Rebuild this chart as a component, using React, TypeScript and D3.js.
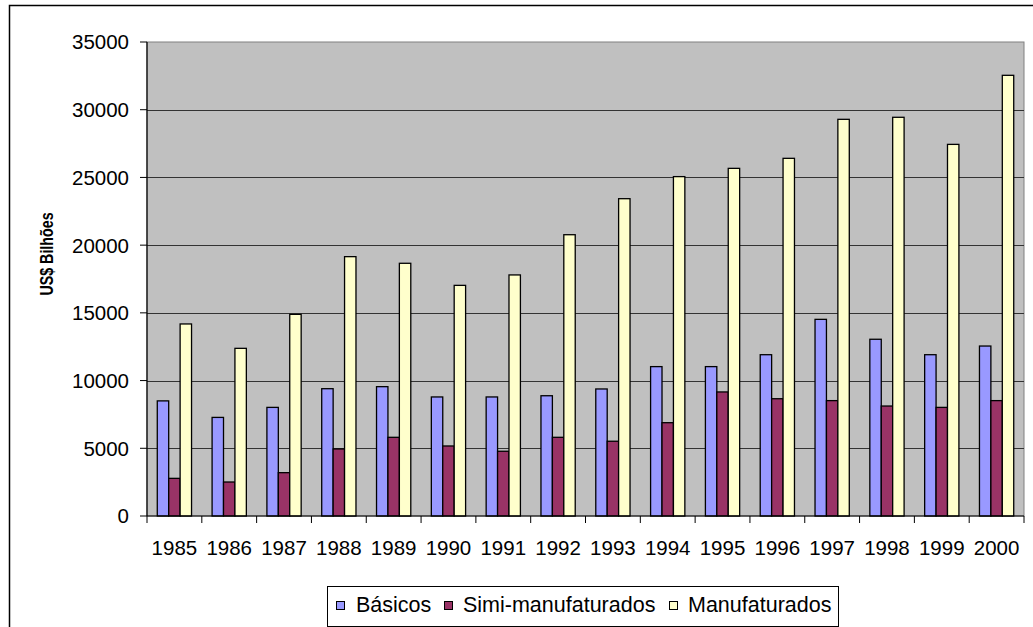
import React from "react";
import * as d3 from "d3";

const years = ["1985","1986","1987","1988","1989","1990","1991","1992","1993","1994","1995","1996","1997","1998","1999","2000"];
const basicos = [8500, 7280, 8020, 9400, 9550, 8790, 8790, 8880, 9380, 11030, 11030, 11910, 14520, 13050, 11910, 12550];
const simiManufaturados = [2780, 2510, 3200, 4950, 5810, 5170, 4780, 5810, 5520, 6890, 9160, 8660, 8520, 8120, 8020, 8520];
const manufaturados = [14180, 12380, 14890, 19150, 18660, 17030, 17800, 20770, 23430, 25060, 25670, 26410, 29290, 29440, 27440, 32540];
const seriesNames = ["Básicos", "Simi-manufaturados", "Manufaturados"];
const seriesColors = ["#9999FF", "#993366", "#FFFFCC"];
const yTicks = [0, 5000, 10000, 15000, 20000, 25000, 30000, 35000];

const FONT = "'Liberation Sans', Arial, sans-serif";

export default function App() {
  const W = 1033, H = 627;
  const left = 147, right = 1024, top = 42, bottom = 516;
  const seriesData = [basicos, simiManufaturados, manufaturados];

  const x = d3.scaleBand<string>().domain(years).range([left, right]).padding(0);
  const x1 = d3.scaleBand<number>().domain([0, 1, 2]).range([0, x.bandwidth()]).paddingInner(0).paddingOuter(0.9);
  const y = d3.scaleLinear().domain([0, 35000]).range([bottom, top]);

  const legendX = 327, legendY = 586, legendW = 511, legendH = 40;
  const legendItems = [
    { sw: 336, tx: 356 },
    { sw: 444, tx: 463 },
    { sw: 669, tx: 688 },
  ];

  return (
    <svg width={W} height={H} style={{ position: "absolute", left: 0, top: 0, background: "#fff" }} fontFamily={FONT}>
      <rect x={0} y={0} width={W} height={H} fill="#fff" />
      {/* outer chart border */}
      <rect x={9.5} y={5.5} width={W + 20} height={H + 20} fill="none" stroke="#000" strokeWidth={1.5} />
      {/* plot area */}
      <rect x={left} y={top} width={right - left} height={bottom - top} fill="#C0C0C0" stroke="#808080" strokeWidth={1} />
      {/* gridlines */}
      {yTicks.filter(t => t > 0 && t < 35000).map(t => (
        <line key={"g" + t} x1={left} x2={right} y1={Math.round(y(t)) + 0.5} y2={Math.round(y(t)) + 0.5} stroke="#333" strokeWidth={1} />
      ))}
      {/* bars */}
      {years.map((yr, i) => (
        <g key={yr}>
          {seriesData.map((s, k) => (
            <rect
              key={k}
              x={(x(yr) as number) + (x1(k) as number)}
              y={y(s[i])}
              width={x1.bandwidth()}
              height={bottom - y(s[i])}
              fill={seriesColors[k]}
              stroke="#000"
              strokeWidth={1.3}
            />
          ))}
        </g>
      ))}
      {/* axes */}
      <line x1={left} x2={left} y1={top} y2={bottom} stroke="#000" strokeWidth={1.2} />
      <line x1={left} x2={right} y1={bottom} y2={bottom} stroke="#000" strokeWidth={1.2} />
      {yTicks.map(t => (
        <g key={"yt" + t}>
          <line x1={left - 7} x2={left} y1={y(t)} y2={y(t)} stroke="#000" strokeWidth={1} />
          <text x={129} y={y(t)} dy="0.36em" textAnchor="end" fontSize={20.5} fill="#000">{t}</text>
        </g>
      ))}
      {years.map((yr, i) => (
        <line key={"xt" + yr} x1={x(yr) as number} x2={x(yr) as number} y1={bottom} y2={bottom + 7} stroke="#000" strokeWidth={1} />
      ))}
      <line x1={right} x2={right} y1={bottom} y2={bottom + 7} stroke="#000" strokeWidth={1} />
      {years.map(yr => (
        <text key={"xl" + yr} x={(x(yr) as number) + x.bandwidth() / 2} y={555} textAnchor="middle" fontSize={20.5} fill="#000">{yr}</text>
      ))}
      {/* y axis title */}
      <text
        transform={`translate(53,254) rotate(-90) scale(0.75,1)`}
        textAnchor="middle"
        fontSize={19}
        fontWeight="bold"
        fill="#000"
      >US$ Bilhões</text>
      {/* legend */}
      <rect x={legendX + 0.5} y={legendY + 0.5} width={legendW} height={legendH} fill="#fff" stroke="#000" strokeWidth={1} />
      {seriesNames.map((n, k) => (
        <g key={n}>
          <rect x={legendItems[k].sw + 0.5} y={601.5} width={8} height={8} fill={seriesColors[k]} stroke="#000" strokeWidth={1} />
          <text x={legendItems[k].tx} y={612} fontSize={21.5} fill="#000">{n}</text>
        </g>
      ))}
    </svg>
  );
}
